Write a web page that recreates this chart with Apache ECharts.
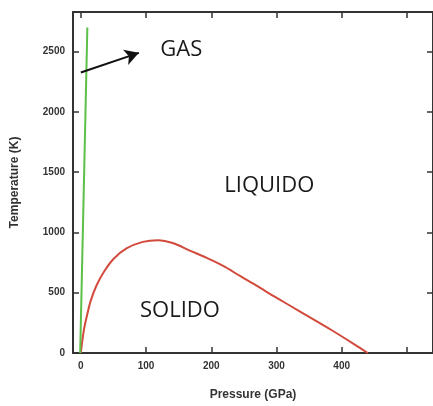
<!DOCTYPE html>
<html><head><meta charset="utf-8">
<script src="https://cdn.jsdelivr.net/npm/echarts@6/dist/echarts.min.js"></script>
<style>html,body{margin:0;padding:0;background:#fff}#c{width:433px;height:406px}</style>
</head><body><div id="c"></div>
<script>
const xTicks = [0, 100, 200, 300, 400, 500];
const xLabels = [0, 100, 200, 300, 400];
const yTicks = [0, 500, 1000, 1500, 2000, 2500];
const gasLine = [[-1, 0], [10, 2700]];
const meltCurve = [[0,0],[2,90],[5,200],[9,300],[15,430],[24,560],[35,670],[50,780],[70,868],[95,922],[118,936],[142,910],[167,850],[193,789],[219,721],[244,639],[270,557],[295,474],[321,392],[350,300],[383,195],[420,70],[440,0]];
const arrowFrom = [0, 2327];
const arrowTo = [89, 2490];
const phaseLabels = [
  {name: 'GAS', value: [154, 2516]},
  {name: 'LIQUIDO', value: [289, 1390]},
  {name: 'SOLIDO', value: [152, 354]}
];

const axisLine = {onZero: false, lineStyle: {color: '#333', width: 2}};
const tickStyle = {color: '#333', width: 1.5};
const labelStyle = {fontSize: 10, color: '#333', fontWeight: 'bold', margin: 8, fontFamily: 'Liberation Sans', formatter: v => String(v)};
const chart = echarts.init(document.getElementById('c'));
chart.setOption({
  animation: false,
  grid: {left: 73, right: 0, top: 12, bottom: 50},
  xAxis: [{
    type: 'value', min: -12, max: 540, position: 'bottom',
    name: 'Pressure (GPa)', nameLocation: 'middle', nameGap: 36,
    nameTextStyle: {fontSize: 12, color: '#333', fontWeight: 'bold', fontFamily: 'Liberation Sans'},
    axisLine: axisLine, splitLine: {show: false},
    axisTick: {inside: true, length: 6, customValues: xTicks, lineStyle: tickStyle},
    axisLabel: Object.assign({customValues: xLabels}, labelStyle)
  }, {
    type: 'value', min: -12, max: 540, position: 'top',
    axisLine: axisLine, splitLine: {show: false},
    axisTick: {inside: true, length: 6, customValues: xTicks, lineStyle: tickStyle},
    axisLabel: {show: false}
  }],
  yAxis: [{
    type: 'value', min: 0, max: 2829, position: 'left',
    name: 'Temperature (K)', nameLocation: 'middle', nameGap: 52, nameRotate: 90,
    nameTextStyle: {fontSize: 12, color: '#333', fontWeight: 'bold', fontFamily: 'Liberation Sans'},
    axisLine: axisLine, splitLine: {show: false},
    axisTick: {inside: true, length: 6, customValues: yTicks, lineStyle: tickStyle},
    axisLabel: Object.assign({customValues: yTicks}, labelStyle)
  }, {
    type: 'value', min: 0, max: 2829, position: 'right',
    axisLine: axisLine, splitLine: {show: false},
    axisTick: {inside: true, length: 6, customValues: yTicks, lineStyle: tickStyle},
    axisLabel: {show: false}
  }],
  series: [{
    type: 'line', data: meltCurve, smooth: 0.3, symbol: 'none',
    lineStyle: {color: '#d24a3c', width: 2}
  }, {
    type: 'line', data: gasLine, symbol: 'none',
    lineStyle: {color: '#5cc04a', width: 2},
    markLine: {
      silent: true, symbol: ['none', 'arrow'], symbolSize: [12, 14],
      lineStyle: {color: '#111', width: 2, type: 'solid'},
      label: {show: false},
      data: [[{coord: arrowFrom}, {coord: arrowTo}]]
    }
  }, {
    type: 'scatter', data: phaseLabels, symbolSize: 0,
    itemStyle: {opacity: 1},
    label: {show: true, position: 'inside', formatter: p => p.name,
      fontSize: 22, color: '#1a1a1a', textBorderWidth: 0, textBorderColor: 'transparent',
      fontFamily: 'Open Sans'}
  }]
});
</script></body></html>
